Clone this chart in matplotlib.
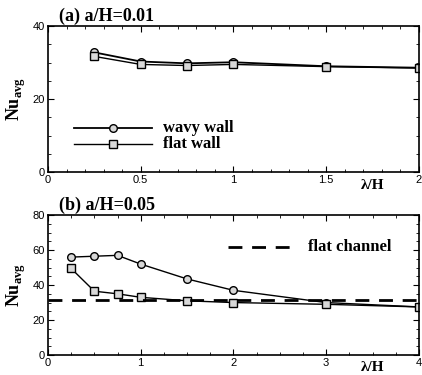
import matplotlib
matplotlib.use("Agg")
import matplotlib.pyplot as plt
from matplotlib.ticker import MultipleLocator, FuncFormatter

# Panel (a): a/H = 0.01
lam_a = [0.25, 0.5, 0.75, 1.0, 1.5, 2.0]
nu_wavy_a = [32.8, 30.3, 29.8, 30.1, 29.0, 28.6]
nu_flat_a = [31.7, 29.5, 29.2, 29.5, 28.9, 28.5]

# Panel (b): a/H = 0.05
lam_b = [0.25, 0.5, 0.75, 1.0, 1.5, 2.0, 3.0, 4.0]
nu_wavy_b = [56.0, 56.5, 57.0, 52.0, 43.5, 37.0, 30.0, 27.5]
nu_flat_b = [49.5, 36.5, 35.0, 33.0, 31.0, 30.0, 29.0, 27.5]
nu_channel = 31.5

serif = "Liberation Serif"
sans = "Liberation Sans"
plt.rcParams["mathtext.fontset"] = "custom"
plt.rcParams["mathtext.bf"] = "Liberation Serif:bold"
plt.rcParams["mathtext.rm"] = "Liberation Serif"

fig = plt.figure(figsize=(4.22, 3.75), dpi=100)
ax1 = fig.add_axes([0.1137, 0.5413, 0.879, 0.389])
ax2 = fig.add_axes([0.1137, 0.0533, 0.879, 0.373])

mk = dict(markerfacecolor="#d8d8d8", markeredgecolor="black", markeredgewidth=1.0,
          markersize=5.5, color="black")

ax1.plot(lam_a, nu_wavy_a, marker="o", lw=1.3, **mk)
ax1.plot(lam_a, nu_flat_a, marker="s", lw=1.0, **mk)
ax1.set_xlim(0, 2)
ax1.set_ylim(0, 40)
ax1.xaxis.set_major_locator(MultipleLocator(0.5))
ax1.xaxis.set_minor_locator(MultipleLocator(0.1))
ax1.yaxis.set_major_locator(MultipleLocator(20))
ax1.yaxis.set_minor_locator(MultipleLocator(5))

# legend drawn with handles placed in axes coordinates
ax1.plot([0.07, 0.28], [0.30, 0.30], transform=ax1.transAxes, color="black", lw=1.3)
ax1.plot([0.175], [0.30], transform=ax1.transAxes, marker="o", **mk)
ax1.plot([0.07, 0.28], [0.19, 0.19], transform=ax1.transAxes, color="black", lw=1.0)
ax1.plot([0.175], [0.19], transform=ax1.transAxes, marker="s", **mk)
ax1.text(0.31, 0.30, "wavy wall", transform=ax1.transAxes, va="center",
         fontfamily=serif, fontweight="bold", fontsize=12)
ax1.text(0.31, 0.19, "flat wall", transform=ax1.transAxes, va="center",
         fontfamily=serif, fontweight="bold", fontsize=12)

ax2.plot(lam_b, nu_wavy_b, marker="o", lw=1.0, **mk)
ax2.plot(lam_b, nu_flat_b, marker="s", lw=1.0, **mk)
ax2.axhline(nu_channel, color="black", lw=2.0, dashes=(5, 3.5))
ax2.set_xlim(0, 4)
ax2.set_ylim(0, 80)
ax2.xaxis.set_major_locator(MultipleLocator(1))
ax2.xaxis.set_minor_locator(MultipleLocator(0.25))
ax2.yaxis.set_major_locator(MultipleLocator(20))
ax2.yaxis.set_minor_locator(MultipleLocator(5))
ax2.plot([0.485, 0.66], [0.77, 0.77], transform=ax2.transAxes, color="black",
         lw=2.0, dashes=(5, 3.5))
ax2.text(0.70, 0.77, "flat channel", transform=ax2.transAxes, va="center",
         fontfamily=serif, fontweight="bold", fontsize=12)

fmt = FuncFormatter(lambda v, p: f"{v:g}")
titles = ["(a) a/H=0.01", "(b) a/H=0.05"]
for ax, title in zip((ax1, ax2), titles):
    ax.xaxis.set_major_formatter(fmt)
    ax.yaxis.set_major_formatter(fmt)
    ax.tick_params(which="both", direction="in", top=True, right=True,
                   labelsize=8, pad=2)
    ax.tick_params(which="major", length=4)
    ax.tick_params(which="minor", length=2)
    for lbl in ax.get_xticklabels() + ax.get_yticklabels():
        lbl.set_fontfamily(sans)
    for s in ax.spines.values():
        s.set_linewidth(1.2)
    ax.set_ylabel(r"$\mathbf{Nu}_{\mathbf{avg}}$", fontsize=13)
    ax.yaxis.set_label_coords(-0.055, 0.5)
    ax.text(0.03, 1.01, title, transform=ax.transAxes, ha="left", va="bottom",
            fontfamily=serif, fontweight="bold", fontsize=13)
    ax.text(0.875, -0.045, "λ/H", transform=ax.transAxes, ha="center", va="top",
            fontfamily=serif, fontweight="bold", fontsize=11)

fig.savefig("out.png", dpi=100)
